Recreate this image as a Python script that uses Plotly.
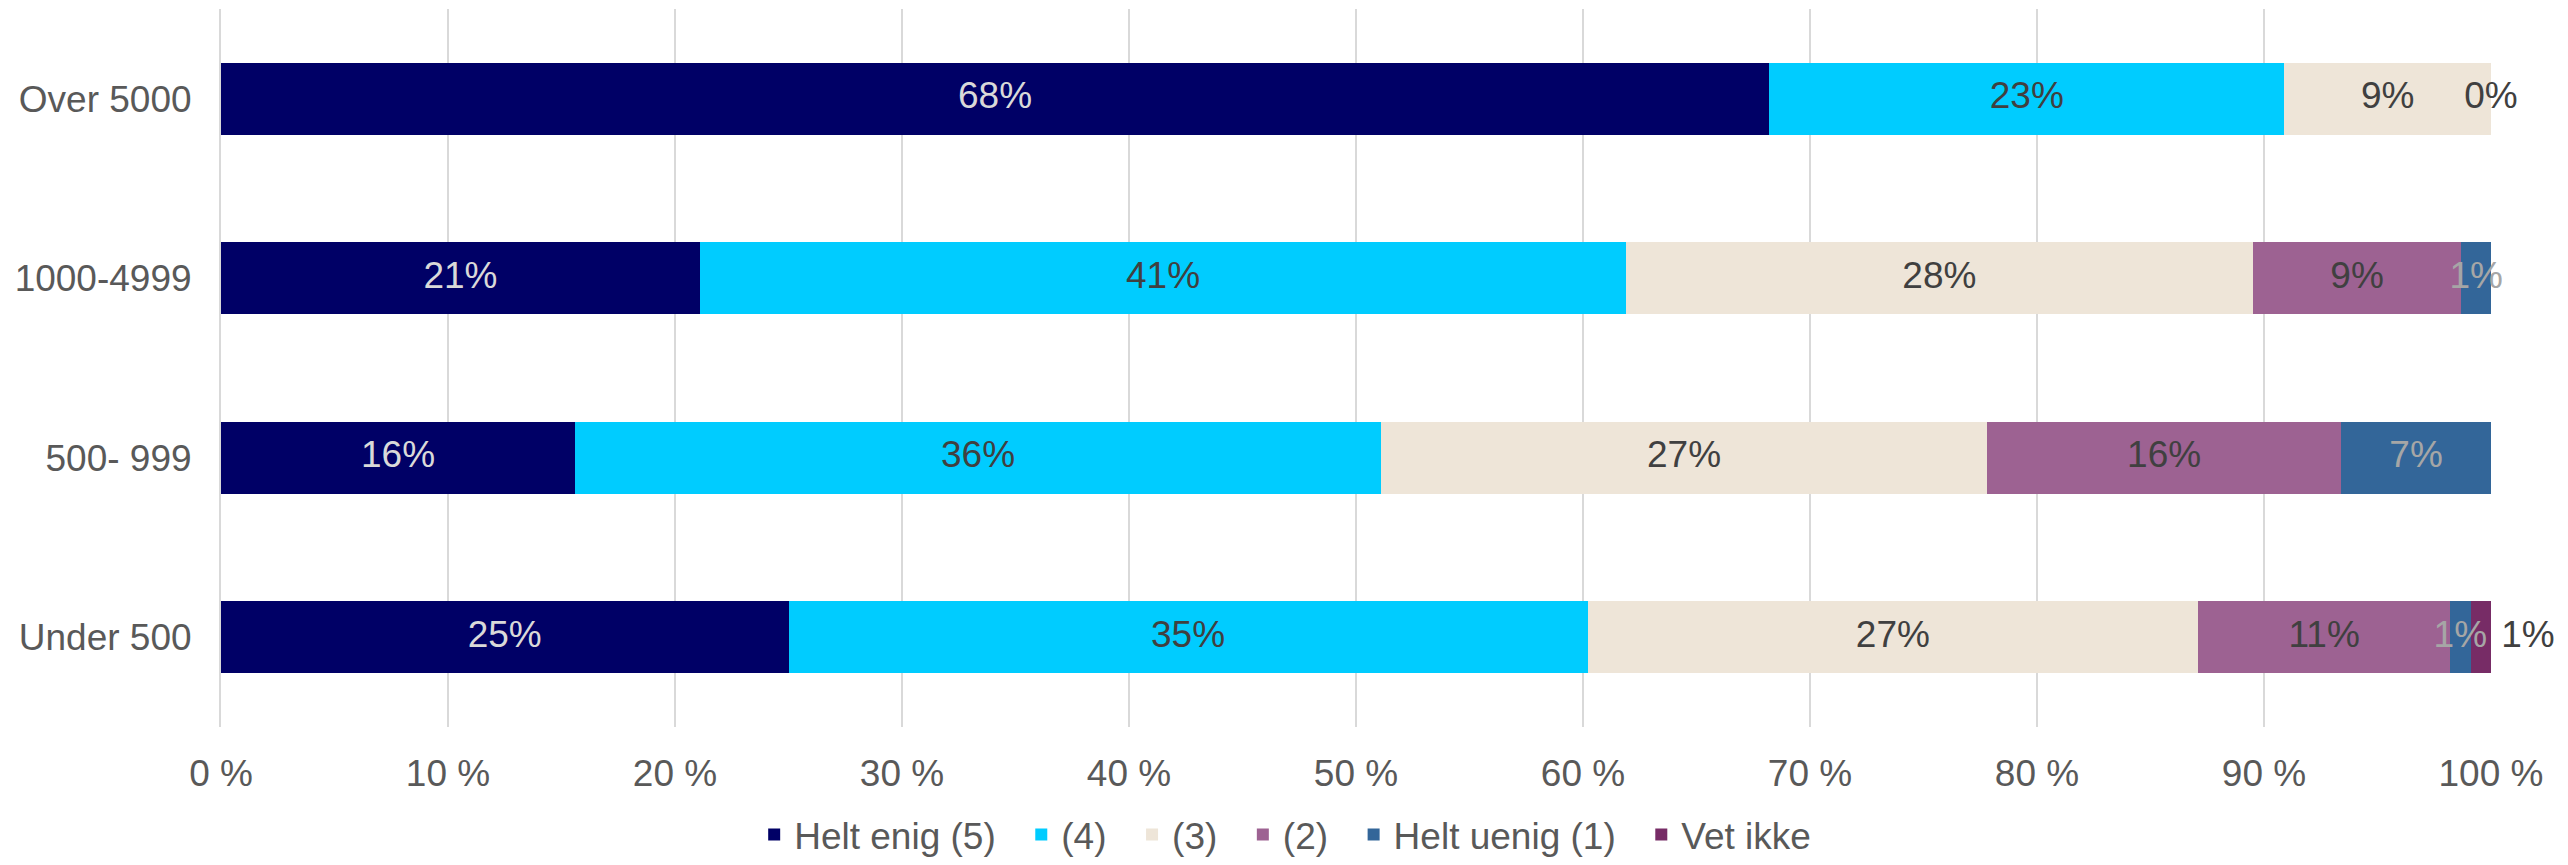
import plotly.graph_objects as go

# categories, top to bottom
groups = ['Over 5000', '1000-4999', '500- 999', 'Under 500']

# share of answers in percent per group (None = no segment / no label)
helt_enig = [68.2, 21.1, 15.6, 25.0]
svar_4 = [22.7, 40.8, 35.5, 35.2]
svar_3 = [9.1, 27.6, 26.7, 26.9]
svar_2 = [0.0, 9.2, 15.6, 11.1]
helt_uenig = [None, 1.3, 6.6, 0.9]
vet_ikke = [None, None, None, 0.9]

x_ticks = [0, 10, 20, 30, 40, 50, 60, 70, 80, 90, 100]

series = [
    ('Helt enig (5)', helt_enig, '#000066', '#D9D9D9'),
    ('(4)', svar_4, '#00CCFF', '#404040'),
    ('(3)', svar_3, '#EEE5D8', '#404040'),
    ('(2)', svar_2, '#9D6292', '#404040'),
    ('Helt uenig (1)', helt_uenig, '#336699', '#A6A6A6'),
    ('Vet ikke', vet_ikke, '#772C66', '#404040'),
]

FONT = 'Liberation Sans, Arial, sans-serif'
NB = '\u00a0'

fig = go.Figure()

# stacked bars
for name, vals, color, _ in series:
    fig.add_trace(go.Bar(
        name=name + NB * 2, y=groups, x=[v if v is not None else 0 for v in vals],
        orientation='h', marker=dict(color=color, line=dict(width=0)),
        hoverinfo='skip'))

# data labels at the middle of each segment (Excel style, not shrunk)
cum = [0.0] * len(groups)
for name, vals, color, txtcolor in series:
    xs, ys, txt = [], [], []
    outside = name == 'Vet ikke'
    for j, v in enumerate(vals):
        if v is None:
            continue
        xs.append(cum[j] + v if outside else cum[j] + v / 2)
        ys.append(groups[j])
        txt.append((NB if outside else '') + f'{round(v)}%')
        cum[j] += v
    fig.add_trace(go.Scatter(
        x=xs, y=ys, text=txt, mode='text',
        textposition='middle right' if outside else 'middle center',
        textfont=dict(family=FONT, size=37, color=txtcolor),
        showlegend=False, hoverinfo='skip', cliponaxis=False))

# page body adds an 8px margin, so the figure is 8px smaller than the window
fig.update_layout(
    width=2560, height=857,
    barmode='stack', bargap=0.6,
    plot_bgcolor='white', paper_bgcolor='white',
    margin=dict(l=213, r=77, t=1, b=138, autoexpand=False),
    font=dict(family=FONT, size=37, color='#595959'),
    legend=dict(orientation='h', xref='container', yref='container',
                x=0.503, xanchor='center', y=0.035, yanchor='middle',
                traceorder='normal', font=dict(size=37, color='#595959'),
                itemwidth=30),
)
fig.update_xaxes(range=[0, 100], tickmode='array', tickvals=x_ticks,
                 ticktext=[f'{t} %' for t in x_ticks],
                 showgrid=True, gridcolor='#D9D9D9', gridwidth=2,
                 zeroline=False, showline=False, ticklabelstandoff=21,
                 automargin=False)
fig.update_yaxes(categoryorder='array', categoryarray=groups[::-1],
                 showline=True, linecolor='#D9D9D9', linewidth=2,
                 showgrid=False, ticklabelstandoff=20, automargin=False)

fig.write_html("out.html")
